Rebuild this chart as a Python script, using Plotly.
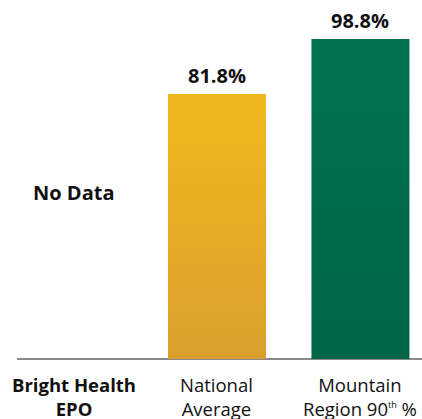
import plotly.graph_objects as go

categories = ["Bright Health<br>EPO", "National<br>Average",
              "Mountain<br>Region 90<sup><span style='font-size:9px'>th</span></sup> %"]
values = [None, 81.8, 98.8]
value_labels = ["No Data", "81.8%", "98.8%"]
top_colors = ["#FFFFFF", "#F1B81D", "#01734F"]
bottom_colors = ["#FFFFFF", "#DB9F2D", "#006546"]

FONT = "'Open Sans', sans-serif"
bar_w = 0.683
xs = list(range(len(categories)))

fig = go.Figure()
for i, v in enumerate(values):
    if v is None:
        continue
    fig.add_trace(go.Scatter(
        x=[i - bar_w / 2, i - bar_w / 2, i + bar_w / 2, i + bar_w / 2, i - bar_w / 2],
        y=[0, v, v, 0, 0],
        mode="lines", line=dict(width=0),
        fill="toself",
        fillgradient=dict(type="vertical",
                          colorscale=[[0, bottom_colors[i]], [1, top_colors[i]]]),
        hoverinfo="skip", showlegend=False,
    ))
    fig.add_annotation(x=i, y=v, text="<b>" + value_labels[i] + "</b>",
                       showarrow=False, yanchor="bottom", yshift=3,
                       font=dict(family=FONT, size=20, color="#111111"))

for i, v in enumerate(values):
    if v is None:
        fig.add_annotation(x=i, y=51.5, text="<b>" + value_labels[i] + "</b>",
                           showarrow=False,
                           font=dict(family=FONT, size=20, color="#111111"))

for i, c in enumerate(categories):
    txt = "<b>" + c + "</b>" if i == 0 else c
    fig.add_annotation(x=i, y=0, text=txt, showarrow=False,
                       yanchor="top", yshift=-11,
                       font=dict(family=FONT, size=18.5, color="#111111"))

fig.update_layout(
    width=422, height=419,
    margin=dict(l=17, r=0, t=0, b=60, autoexpand=False),
    paper_bgcolor="white", plot_bgcolor="white",
    xaxis=dict(range=[-0.394, 2.429], showgrid=False, zeroline=False,
               showline=False, ticks="", showticklabels=False, fixedrange=True),
    yaxis=dict(range=[0, 110.8], showgrid=False, zeroline=True,
               zerolinecolor="#8a8a8a", zerolinewidth=1.5,
               showticklabels=False, fixedrange=True),
    showlegend=False,
)

fig.write_html("out.html", config={"displayModeBar": False},
               post_script="document.body.style.margin='0';document.body.style.overflow='hidden';")
